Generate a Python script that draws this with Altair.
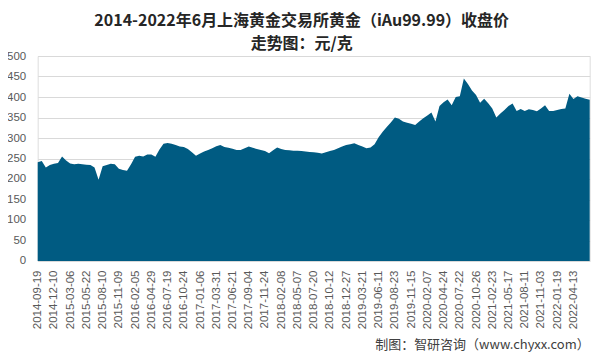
import altair as alt
import pandas as pd

# Axis tick labels (trading-day category axis, one label every 4 samples)
date_labels = [
    "2014-09-19", "2014-12-10", "2015-03-06", "2015-05-22", "2015-08-10",
    "2015-11-09", "2016-02-05", "2016-04-29", "2016-07-19", "2016-10-24",
    "2017-01-06", "2017-03-31", "2017-06-21", "2017-09-04", "2017-11-24",
    "2018-02-08", "2018-05-07", "2018-07-20", "2018-10-12", "2018-12-27",
    "2019-03-21", "2019-06-11", "2019-08-23", "2019-11-15", "2020-02-07",
    "2020-04-24", "2020-07-22", "2020-10-26", "2021-02-23", "2021-05-17",
    "2021-08-11", "2021-11-03", "2022-01-19", "2022-04-13",
]

prices = [
    241, 244, 228, 234, 237, 239, 255, 245, 238, 236,
    237, 236, 235, 234, 228, 198, 231, 234, 237, 236,
    225, 222, 220, 236, 254, 257, 255, 260, 260, 254,
    272, 286, 288, 286, 283, 279, 278, 273, 265, 257,
    262, 267, 271, 275, 280, 283, 278, 276, 274, 271,
    271, 275, 279, 276, 273, 271, 268, 263, 270, 277,
    273, 271, 270, 269, 269, 268, 267, 266, 265, 264,
    262, 265, 268, 271, 275, 279, 283, 285, 287, 283,
    279, 275, 277, 285, 302, 315, 327, 338, 350, 347,
    340, 337, 335, 332, 340, 348, 355, 362, 340, 378,
    387, 394, 380, 400, 402, 445, 432, 416, 405, 386,
    396, 385, 372, 350, 360, 368, 378, 384, 366, 371,
    366, 370, 368, 365, 372, 380, 366, 366, 368, 371,
    372, 408, 395, 402, 399, 396, 393,
]

title_lines = ["2014-2022年6月上海黄金交易所黄金（iAu99.99）收盘价", "走势图：元/克"]
footer = "制图：智研咨询（www.chyxx.com）"

df = pd.DataFrame({"i": list(range(len(prices))), "price": prices})

label_array = "[" + ",".join("'" + d + "'" for d in date_labels) + "]"
label_expr = label_array + "[round(datum.value / 4)]"

W, H = 552, 205

area = alt.Chart(df).mark_area(color="#005b82", opacity=1).encode(
    x=alt.X(
        "i:Q",
        scale=alt.Scale(domain=[0, len(prices) - 1], nice=False, zero=False),
        axis=alt.Axis(
            title=None,
            values=[4 * j for j in range(len(date_labels))],
            labelExpr=label_expr,
            labelAngle=-90,
            labelAlign="right",
            labelBaseline="middle",
            labelPadding=9,
            labelFontSize=11.5,
            labelColor="#595959",
            labelFont="Liberation Sans",
            ticks=False,
            domain=False,
            grid=False,
            labelOverlap=False,
        ),
    ),
    y=alt.Y(
        "price:Q",
        scale=alt.Scale(domain=[0, 500], nice=False),
        axis=alt.Axis(
            title=None,
            values=list(range(0, 501, 50)),
            labelPadding=12,
            labelFontSize=11.5,
            labelColor="#595959",
            labelFont="Liberation Sans",
            ticks=False,
            domain=False,
            grid=True,
            gridColor="#d9d9d9",
            gridWidth=1,
        ),
    ),
)

title1 = alt.Chart(pd.DataFrame({"t": [title_lines[0]]})).mark_text(
    align="center", baseline="middle", fontSize=16, fontWeight="bold",
    color="#262626", font="Noto Sans CJK SC",
).encode(text="t:N", x=alt.value(264), y=alt.value(-35.5))

title2 = alt.Chart(pd.DataFrame({"t": [title_lines[1]]})).mark_text(
    align="center", baseline="middle", fontSize=16, fontWeight="bold",
    color="#262626", font="Noto Sans CJK SC",
).encode(text="t:N", x=alt.value(264), y=alt.value(-12.5))

foot = alt.Chart(pd.DataFrame({"t": [footer]})).mark_text(
    align="right", baseline="middle", fontSize=13, color="#404040",
    font="Noto Sans CJK SC",
).encode(
    text="t:N",
    x=alt.value(W),
    y=alt.value(289),
)

chart = alt.layer(area, title1, title2, foot).properties(
    width=W,
    height=H,
    autosize=alt.AutoSizeParams(type="none"),
    padding={"left": 29.7, "top": 48, "right": 2, "bottom": 92},
).configure_view(stroke=None).configure(background="white")

chart.save("out.html", embed_options={"renderer": "svg", "actions": False})
